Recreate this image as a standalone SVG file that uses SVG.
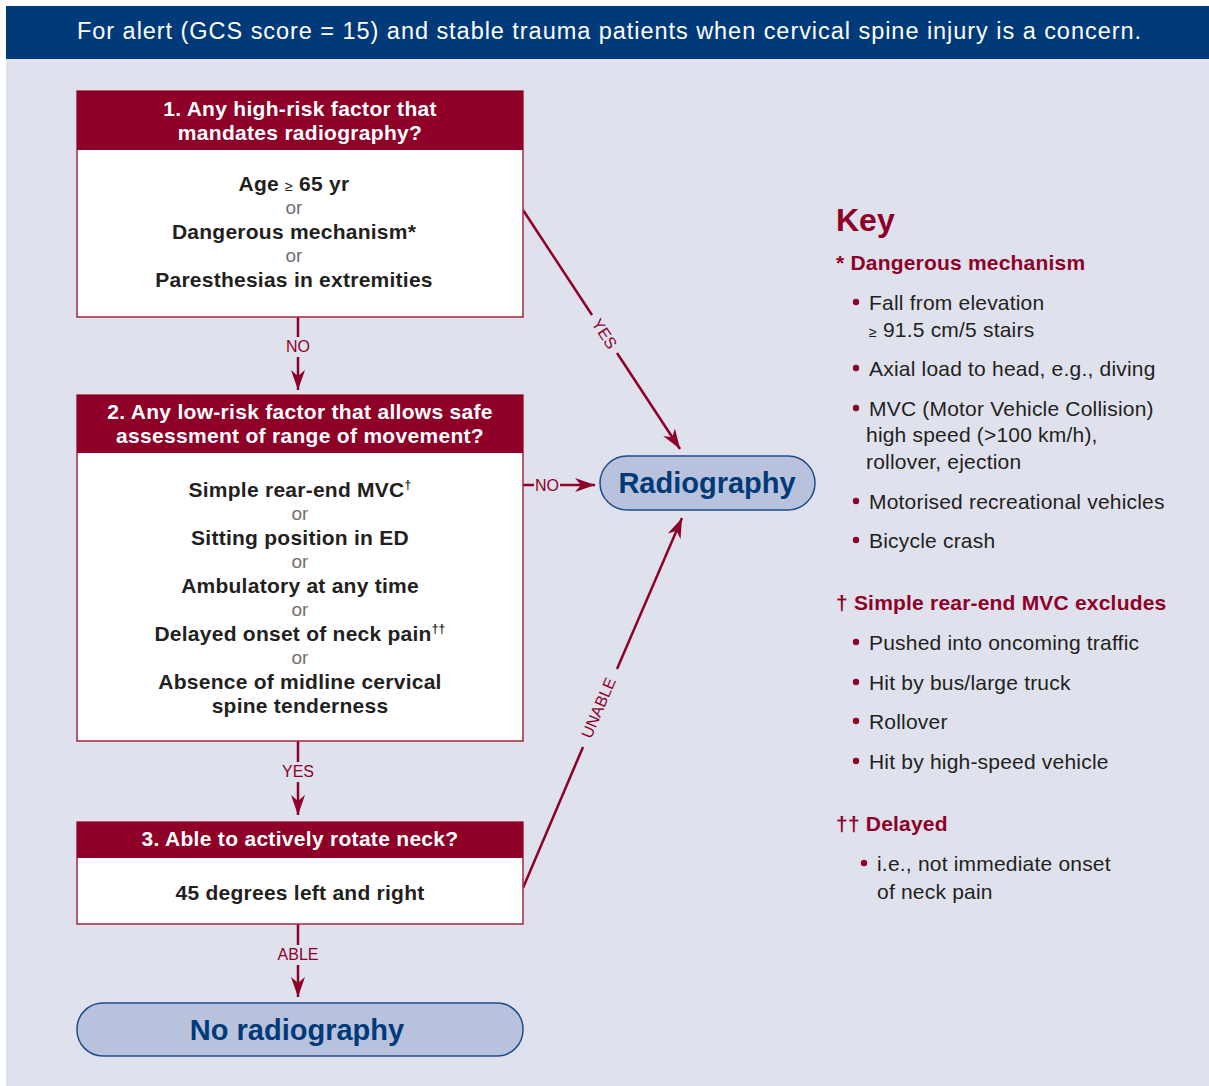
<svg xmlns="http://www.w3.org/2000/svg" width="1209" height="1086" viewBox="0 0 1209 1086">
<style>
.hdr{fill:#8e0028}
.box{fill:#ffffff;stroke:#a8273f;stroke-width:1.5}
.ht{font-family:"Liberation Sans",Arial,sans-serif;font-weight:bold;font-size:21px;letter-spacing:0.3px;fill:#ffffff;text-anchor:middle}
.bt{font-family:"Liberation Sans",Arial,sans-serif;font-weight:bold;font-size:21px;letter-spacing:0.25px;fill:#231f20;text-anchor:middle}
.or{font-family:"Liberation Sans",Arial,sans-serif;font-size:19px;fill:#6d6e71;text-anchor:middle}
.term{fill:#b8c2dc;stroke:#1e4c8c;stroke-width:1.5}
.tt{font-family:"Liberation Sans",Arial,sans-serif;font-weight:bold;font-size:29px;fill:#003a78;text-anchor:middle}
.cn{fill:none;stroke:#8e0028;stroke-width:2.5}
.cl{font-family:"Liberation Sans",Arial,sans-serif;font-size:16px;fill:#8e0028;text-anchor:middle}
.kh{font-family:"Liberation Sans",Arial,sans-serif;font-weight:bold;font-size:21px;letter-spacing:0.2px;fill:#8e0028}
.kt{font-family:"Liberation Sans",Arial,sans-serif;font-size:21px;letter-spacing:0.2px;fill:#231f20}
.bu{fill:#8e0028}
</style>
<defs>
<marker id="ah" viewBox="0 0 20 14" refX="20" refY="7" markerWidth="20" markerHeight="14" markerUnits="userSpaceOnUse" orient="auto">
<path d="M0,0 L20,7 L0,14 L6,7 z" fill="#8e0028"/>
</marker>
</defs>
<rect x="0" y="0" width="1209" height="1086" fill="#ffffff"/>
<rect x="6" y="59" width="1203" height="1027" fill="#dfe1ed"/>
<rect x="6" y="6" width="1203" height="53" fill="#003a78"/>
<text x="77" y="39" font-family="Liberation Sans, Arial, sans-serif" font-size="23.5" fill="#ffffff" textLength="1064" lengthAdjust="spacing">For alert (GCS score = 15) and stable trauma patients when cervical spine injury is a concern.</text>

<g id="connectors">
<line class="cn" x1="298" y1="317" x2="298" y2="337"/>
<line class="cn" x1="298" y1="357" x2="298" y2="390" marker-end="url(#ah)"/>
<text class="cl" x="298" y="352">NO</text>
<line class="cn" x1="298" y1="741" x2="298" y2="762"/>
<line class="cn" x1="298" y1="782" x2="298" y2="815" marker-end="url(#ah)"/>
<text class="cl" x="298" y="777">YES</text>
<line class="cn" x1="298" y1="924" x2="298" y2="945"/>
<line class="cn" x1="298" y1="965" x2="298" y2="997" marker-end="url(#ah)"/>
<text class="cl" x="298" y="960">ABLE</text>
<line class="cn" x1="523" y1="210" x2="592" y2="315"/>
<line class="cn" x1="617" y1="353" x2="680" y2="449" marker-end="url(#ah)"/>
<text class="cl" transform="translate(604,334) rotate(56.7)" y="5">YES</text>
<line class="cn" x1="523" y1="485" x2="534" y2="485"/>
<line class="cn" x1="560" y1="485" x2="595" y2="485" marker-end="url(#ah)"/>
<text class="cl" x="547" y="491">NO</text>
<line class="cn" x1="523" y1="888" x2="583" y2="747"/>
<line class="cn" x1="617" y1="669" x2="682" y2="518" marker-end="url(#ah)"/>
<text class="cl" transform="translate(599,708) rotate(-66.7)" y="5">UNABLE</text>
</g>

<g id="node1">
<rect class="box" x="77" y="91" width="446" height="226"/>
<rect class="hdr" x="77" y="91" width="446" height="59"/>
<text class="ht" x="300" y="116">1. Any high-risk factor that</text>
<text class="ht" x="300" y="140">mandates radiography?</text>
<text class="bt" x="294" y="191">Age <tspan font-weight="normal" font-size="14">≥</tspan> 65 yr</text>
<text class="or" x="294" y="214">or</text>
<text class="bt" x="294" y="239">Dangerous mechanism*</text>
<text class="or" x="294" y="262">or</text>
<text class="bt" x="294" y="287">Paresthesias in extremities</text>
</g>

<g id="node2">
<rect class="box" x="77" y="395" width="446" height="346"/>
<rect class="hdr" x="77" y="395" width="446" height="58"/>
<text class="ht" x="300" y="419">2. Any low-risk factor that allows safe</text>
<text class="ht" x="300" y="443">assessment of range of movement?</text>
<text class="bt" x="300" y="497">Simple rear-end MVC<tspan font-size="12" dy="-8">†</tspan></text>
<text class="or" x="300" y="520">or</text>
<text class="bt" x="300" y="545">Sitting position in ED</text>
<text class="or" x="300" y="568">or</text>
<text class="bt" x="300" y="593">Ambulatory at any time</text>
<text class="or" x="300" y="616">or</text>
<text class="bt" x="300" y="641">Delayed onset of neck pain<tspan font-size="12" dy="-8">††</tspan></text>
<text class="or" x="300" y="664">or</text>
<text class="bt" x="300" y="689">Absence of midline cervical</text>
<text class="bt" x="300" y="713">spine tenderness</text>
</g>

<g id="node3">
<rect class="box" x="77" y="822" width="446" height="102"/>
<rect class="hdr" x="77" y="822" width="446" height="36"/>
<text class="ht" x="300" y="846">3. Able to actively rotate neck?</text>
<text class="bt" x="300" y="900">45 degrees left and right</text>
</g>

<g id="no-radiography">
<rect class="term" x="77" y="1003" width="446" height="53" rx="26" ry="26"/>
<text class="tt" x="297" y="1040">No radiography</text>
</g>

<g id="radiography">
<rect class="term" x="600" y="456" width="215" height="54" rx="27" ry="27"/>
<text class="tt" x="707" y="493">Radiography</text>
</g>

<g id="key">
<text x="836" y="231" font-family="Liberation Sans, Arial, sans-serif" font-weight="bold" font-size="32" fill="#8e0028">Key</text>
<text class="kh" x="836" y="270">* Dangerous mechanism</text>
<circle class="bu" cx="856" cy="302" r="3.2"/>
<text class="kt" x="869" y="310">Fall from elevation</text>
<text class="kt" x="869" y="337"><tspan font-size="14">≥</tspan> 91.5 cm/5 stairs</text>
<circle class="bu" cx="856" cy="368" r="3.2"/>
<text class="kt" x="869" y="376">Axial load to head, e.g., diving</text>
<circle class="bu" cx="856" cy="408" r="3.2"/>
<text class="kt" x="869" y="416">MVC (Motor Vehicle Collision)</text>
<text class="kt" x="866" y="442">high speed (&gt;100 km/h),</text>
<text class="kt" x="866" y="469">rollover, ejection</text>
<circle class="bu" cx="856" cy="501" r="3.2"/>
<text class="kt" x="869" y="509">Motorised recreational vehicles</text>
<circle class="bu" cx="856" cy="540" r="3.2"/>
<text class="kt" x="869" y="548">Bicycle crash</text>
<text class="kh" x="836" y="610">† Simple rear-end MVC excludes</text>
<circle class="bu" cx="856" cy="642" r="3.2"/>
<text class="kt" x="869" y="650">Pushed into oncoming traffic</text>
<circle class="bu" cx="856" cy="682" r="3.2"/>
<text class="kt" x="869" y="690">Hit by bus/large truck</text>
<circle class="bu" cx="856" cy="721" r="3.2"/>
<text class="kt" x="869" y="729">Rollover</text>
<circle class="bu" cx="856" cy="761" r="3.2"/>
<text class="kt" x="869" y="769">Hit by high-speed vehicle</text>
<text class="kh" x="836" y="831">†† Delayed</text>
<circle class="bu" cx="864" cy="863" r="3.2"/>
<text class="kt" x="877" y="871">i.e., not immediate onset</text>
<text class="kt" x="877" y="899">of neck pain</text>
</g>
</svg>
